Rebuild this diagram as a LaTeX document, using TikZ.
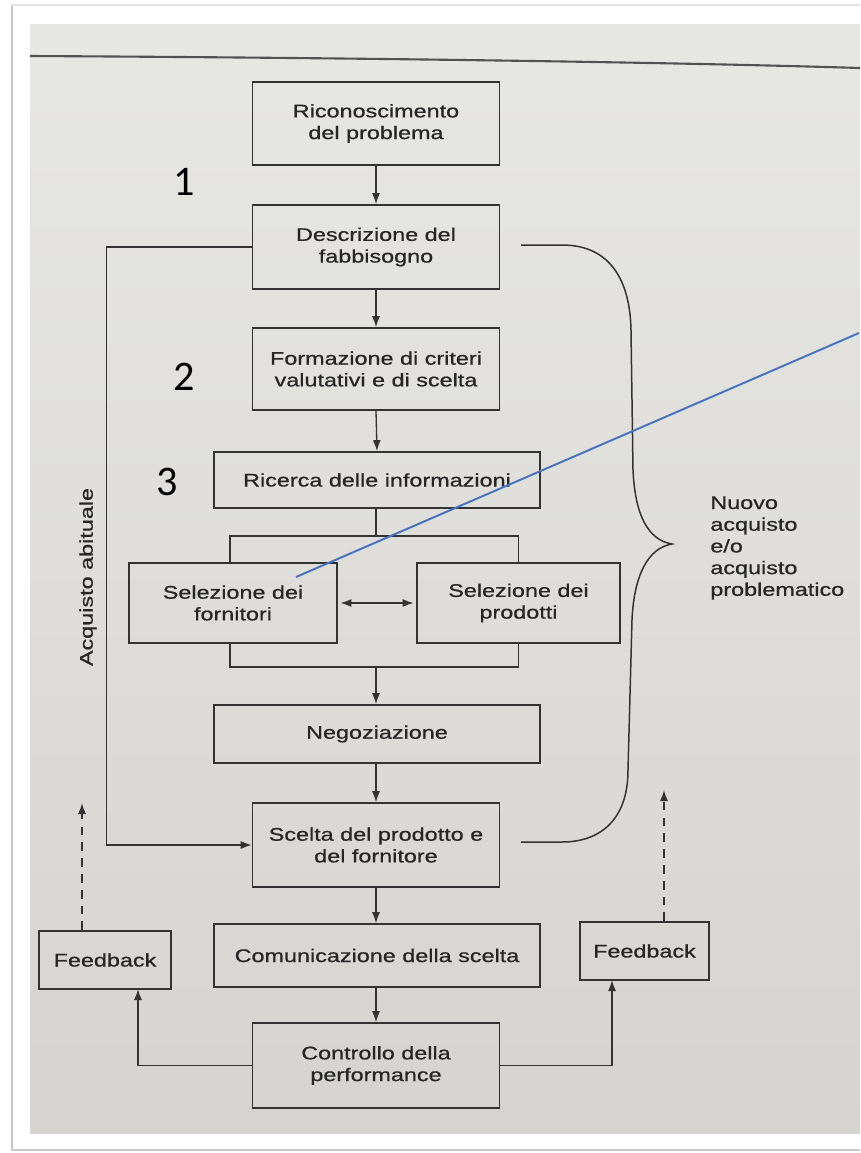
\documentclass[tikz,border=0pt]{standalone}
\usepackage{fontspec}
\setmainfont{Liberation Sans}[FakeStretch=1.28,FakeBold=0.7]
\newfontfamily\numfont{Carlito}
\usetikzlibrary{arrows.meta,calc}
\definecolor{pagetop}{HTML}{E7E7E4}
\definecolor{pagebot}{HTML}{D6D4D1}
\definecolor{linecol}{HTML}{333333}
\definecolor{textcol}{HTML}{262626}
\definecolor{framecol}{HTML}{C8C8C8}
\definecolor{annblue}{HTML}{4472C4}
\tikzset{
  box/.style={draw=linecol, line width=0.95pt, rectangle, align=center,
    font=\fontsize{10.4}{12.35}\selectfont, text=textcol, inner sep=0pt},
  conn/.style={draw=linecol, line width=0.75pt},
  arr/.style={conn, -{Latex[length=2.2mm,width=1.6mm]}},
  darr/.style={conn, {Latex[length=2.2mm,width=1.6mm]}-{Latex[length=2.2mm,width=1.6mm]}, shorten <=1.5pt, shorten >=1.5pt},
  dasharr/.style={arr, dash pattern=on 5pt off 4pt},
  lbl/.style={font=\fontsize{10.4}{12.35}\selectfont, text=textcol, inner sep=0pt},
  num/.style={font=\numfont\fontsize{24}{28}\selectfont, text=black, inner sep=0pt},
}
\begin{document}
\begin{tikzpicture}[x=0.02cm,y=-0.02cm]
\useasboundingbox (0,0) rectangle (860,1153);
% photo frame
\fill[white] (0,0) rectangle (860,1153);
\draw[framecol, line width=1pt] (12,5) -- (12,1150) -- (860,1150);
\draw[framecol!50, line width=0.8pt] (12,5) -- (860,5);
\shade[top color=pagetop, bottom color=pagebot] (30,24) rectangle (860,1133);
% page top rule
\draw[linecol!85, line width=1.2pt] (30,56) .. controls (400,58) and (700,63) .. (860,68);

% boxes
\node[box, minimum width=4.94cm, minimum height=1.66cm] (ric) at (376,123.5) {Riconoscimento\\del problema};
\node[box, minimum width=4.94cm, minimum height=1.68cm] (desc) at (376,247) {Descrizione del\\fabbisogno};
\node[box, minimum width=4.94cm, minimum height=1.64cm] (form) at (376,369) {Formazione di criteri\\valutativi e di scelta};
\node[box, minimum width=6.52cm, minimum height=1.12cm] (info) at (377,480) {Ricerca delle informazioni};
\node[box, minimum width=4.16cm, minimum height=1.6cm] (selF) at (233,603) {Selezione dei\\fornitori};
\node[box, minimum width=4.06cm, minimum height=1.6cm] (selP) at (518.5,603) {Selezione dei\\prodotti};
\node[box, minimum width=6.52cm, minimum height=1.16cm] (neg) at (377,734) {Negoziazione};
\node[box, minimum width=4.94cm, minimum height=1.68cm] (scelta) at (376,845) {Scelta del prodotto e\\del fornitore};
\node[box, minimum width=6.52cm, minimum height=1.26cm] (com) at (377,955.5) {Comunicazione della scelta};
\node[box, minimum width=2.64cm, minimum height=1.16cm] (fbL) at (105,960) {Feedback};
\node[box, minimum width=2.58cm, minimum height=1.16cm] (fbR) at (644.5,951) {Feedback};
\node[box, minimum width=4.94cm, minimum height=1.7cm] (ctrl) at (376,1065.5) {Controllo della\\performance};

% side labels
\node[lbl, rotate=90] (abit) at (88,577) {Acquisto abituale};
\node[lbl, anchor=west, align=left] (nuovo) at (710,548) {Nuovo\\acquisto\\e/o\\acquisto\\problematico};
\node[num] (n1) at (184,182) {1};
\node[num] (n2) at (184,377) {2};
\node[num] (n3) at (167,482) {3};

% main flow
\draw[arr] (ric.south) -- (desc.north);
\draw[arr] (desc.south) -- (form.north);
\draw[arr] (form.south) -- (info.north);
\coordinate (bt) at (376,536);
\coordinate (bb) at (376,667);
\draw[conn] (info.south -| bt) -- (bt);
\draw[conn] (selF.north -| 230,0) |- (bt) -| (selP.north);
\draw[conn] (selF.south -| 230,0) |- (bb) -| (selP.south);
\draw[arr] (bb) -- (neg.north -| bb);
\draw[darr] (selF.east) -- (selP.west);
\draw[arr] (neg.south -| scelta.north) -- (scelta.north);
\draw[arr] (scelta.south) -- (com.north -| scelta.south);
\draw[arr] (com.south -| ctrl.north) -- (ctrl.north);

% habitual purchase loop
\draw[arr] (desc.west) -- ++(-145,0) |- (scelta.west);

% feedback connections
\coordinate (cl) at (138,989);
\coordinate (cr) at (612,980);
\draw[arr] (ctrl.west) -| (cl);
\draw[arr] (ctrl.east) -| (cr);
\coordinate (dl) at (82,803);
\coordinate (dr) at (664,790);
\draw[dasharr] (fbL.north -| dl) -- (dl);
\draw[dasharr] (fbR.north -| dr) -- (dr);

% brace
\coordinate (bs) at (521,245);
\coordinate (be) at (521,842);
\draw[conn, line width=0.85pt] (bs) -- (562,245) .. controls (610,245) and (630,280) .. (631,330)
  -- (633,470) .. controls (635,515) and (648,540) .. (672,544)
  .. controls (648,548) and (634,575) .. (632,620)
  -- (628,770) .. controls (628,820) and (600,842) .. (562,842) -- (be);

% annotation line
\coordinate (bl1) at (296,577);
\coordinate (bl2) at (859,333);
\draw[annblue, line width=1.1pt] (bl1) -- (bl2);
\end{tikzpicture}
\end{document}
